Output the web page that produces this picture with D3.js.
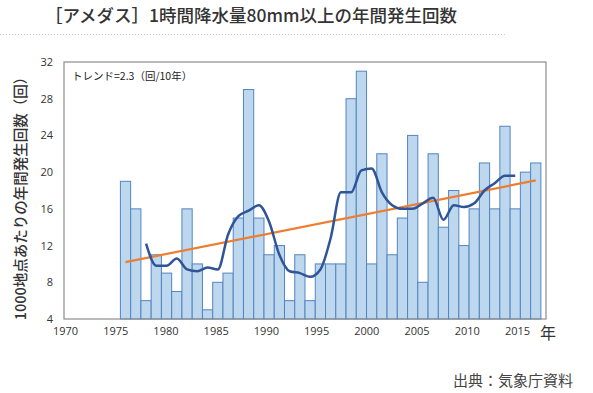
<!DOCTYPE html>
<html>
<head>
<meta charset="utf-8">
<script src="https://cdn.jsdelivr.net/npm/d3@7"></script>
<style>
  body { margin: 0; background: #fff; }
  svg { display: block; font-family: "Noto Sans CJK JP", "Noto Sans", sans-serif; }
</style>
</head>
<body>
<div class="container"></div>
<script>
"use strict";

// yearly counts per 1000 stations
const years = d3.range(1976, 2017);
const counts = [
  19, 16, 6, 11, 9, 7, 16, 10, 5, 8,
  9, 15, 29, 15, 11, 12, 6, 11, 6, 10,
  10, 10, 28, 31, 10, 22, 11, 15, 24, 8,
  22, 14, 18, 12, 16, 21, 16, 25, 16, 20, 21
];
// 5-year running mean, 1978..2014
const maYears = d3.range(1978, 2015);
const maValues = [
  12.2, 9.8, 9.8, 10.6, 9.4, 9.2, 9.6, 9.4, 13.2, 15.2,
  15.8, 16.4, 14.6, 11.0, 9.2, 9.0, 8.6, 9.4, 12.8, 17.8,
  17.8, 20.2, 20.4, 17.8, 16.4, 16.0, 16.0, 16.6, 17.2, 14.8,
  16.4, 16.2, 16.6, 18.0, 18.8, 19.6, 19.6
];
// linear trend end points
const trendYears = [1976, 2016];
const trendValues = [10.2, 19.1];

const xTicks = [1970, 1975, 1980, 1985, 1990, 1995, 2000, 2005, 2010, 2015];
const yTicks = [4, 8, 12, 16, 20, 24, 28, 32];

const makePlot = () => {
  const width = 593;
  const height = 393;
  const plot = { left: 64, right: 546, top: 62, bottom: 319 };

  const svg = d3
    .select(".container")
    .append("svg")
    .attr("width", width)
    .attr("height", height);

  // title + dotted rule
  svg
    .append("text")
    .attr("x", 251)
    .attr("y", 22)
    .attr("text-anchor", "middle")
    .attr("font-size", 17.5)
    .attr("font-weight", 500)
    .attr("fill", "#333")
    .text("［アメダス］1時間降水量80mm以上の年間発生回数");

  svg
    .append("line")
    .attr("x1", 0)
    .attr("x2", 505)
    .attr("y1", 34.5)
    .attr("y2", 34.5)
    .attr("stroke", "#ccc")
    .attr("stroke-dasharray", "1,2");

  const x = d3.scaleLinear().domain([1970, 2017]).range([plot.left, plot.right]);
  // labels sit on a slightly narrower spacing than the bars
  const xLabel = d3.scaleLinear().domain([1970, 2015]).range([65, 517]);
  const y = d3.scaleLinear().domain([4, 32]).range([plot.bottom, plot.top]);
  const bw = x(1971) - x(1970);

  // bars
  svg
    .append("g")
    .selectAll("rect")
    .data(years)
    .enter()
    .append("rect")
    .attr("x", (d) => x(d) - bw / 2)
    .attr("y", (d, i) => y(counts[i]))
    .attr("width", bw)
    .attr("height", (d, i) => y(4) - y(counts[i]))
    .attr("fill", "#bdd7ee")
    .attr("stroke", "#5285c0")
    .attr("stroke-width", 1);

  // plot frame
  svg
    .append("rect")
    .attr("x", plot.left)
    .attr("y", plot.top)
    .attr("width", plot.right - plot.left)
    .attr("height", plot.bottom - plot.top)
    .attr("fill", "none")
    .attr("stroke", "#8c8c8c")
    .attr("stroke-width", 1.2);

  // trend
  const line = d3
    .line()
    .x((d) => x(d[0]))
    .y((d) => y(d[1]));

  svg
    .append("path")
    .datum(d3.zip(trendYears, trendValues))
    .attr("d", line)
    .attr("fill", "none")
    .attr("stroke", "#ed7d31")
    .attr("stroke-width", 2.2);

  // running mean
  svg
    .append("path")
    .datum(d3.zip(maYears, maValues))
    .attr("d", line.curve(d3.curveMonotoneX))
    .attr("fill", "none")
    .attr("stroke", "#2f5597")
    .attr("stroke-width", 2.5);

  // axes
  const xAxis = d3
    .axisBottom(xLabel)
    .tickValues(xTicks)
    .tickSize(0)
    .tickPadding(8)
    .tickFormat(d3.format("d"));
  const gx = svg
    .append("g")
    .attr("transform", "translate(0," + plot.bottom + ")")
    .call(xAxis);
  gx.select(".domain").remove();
  gx.selectAll("text")
    .attr("font-size", 11)
    .attr("fill", "#333")
    .attr("font-family", "'Open Sans', sans-serif");

  const yAxis = d3.axisLeft(y).tickValues(yTicks).tickSize(0).tickPadding(11);
  const gy = svg
    .append("g")
    .attr("transform", "translate(" + plot.left + ",0)")
    .call(yAxis);
  gy.select(".domain").remove();
  gy.selectAll("text")
    .attr("font-size", 11)
    .attr("fill", "#333")
    .attr("font-family", "'Open Sans', sans-serif");

  svg
    .append("text")
    .attr("x", 548)
    .attr("y", 339)
    .attr("text-anchor", "middle")
    .attr("font-size", 16)
    .attr("fill", "#333")
    .text("年");

  // y title
  svg
    .append("text")
    .attr("transform", "translate(26," + 195 + ") rotate(-90)")
    .attr("text-anchor", "middle")
    .attr("font-size", 14.5)
    .attr("font-weight", 500)
    .attr("fill", "#333")
    .text("1000地点あたりの年間発生回数（回）");

  // trend note
  svg
    .append("text")
    .attr("x", 72)
    .attr("y", 80)
    .attr("font-size", 10.5)
    .attr("fill", "#222")
    .text("トレンド=2.3（回/10年）");

  // source
  svg
    .append("text")
    .attr("x", 573)
    .attr("y", 386)
    .attr("text-anchor", "end")
    .attr("font-size", 15)
    .attr("fill", "#444")
    .text("出典：気象庁資料");
};

makePlot();
</script>
</body>
</html>
